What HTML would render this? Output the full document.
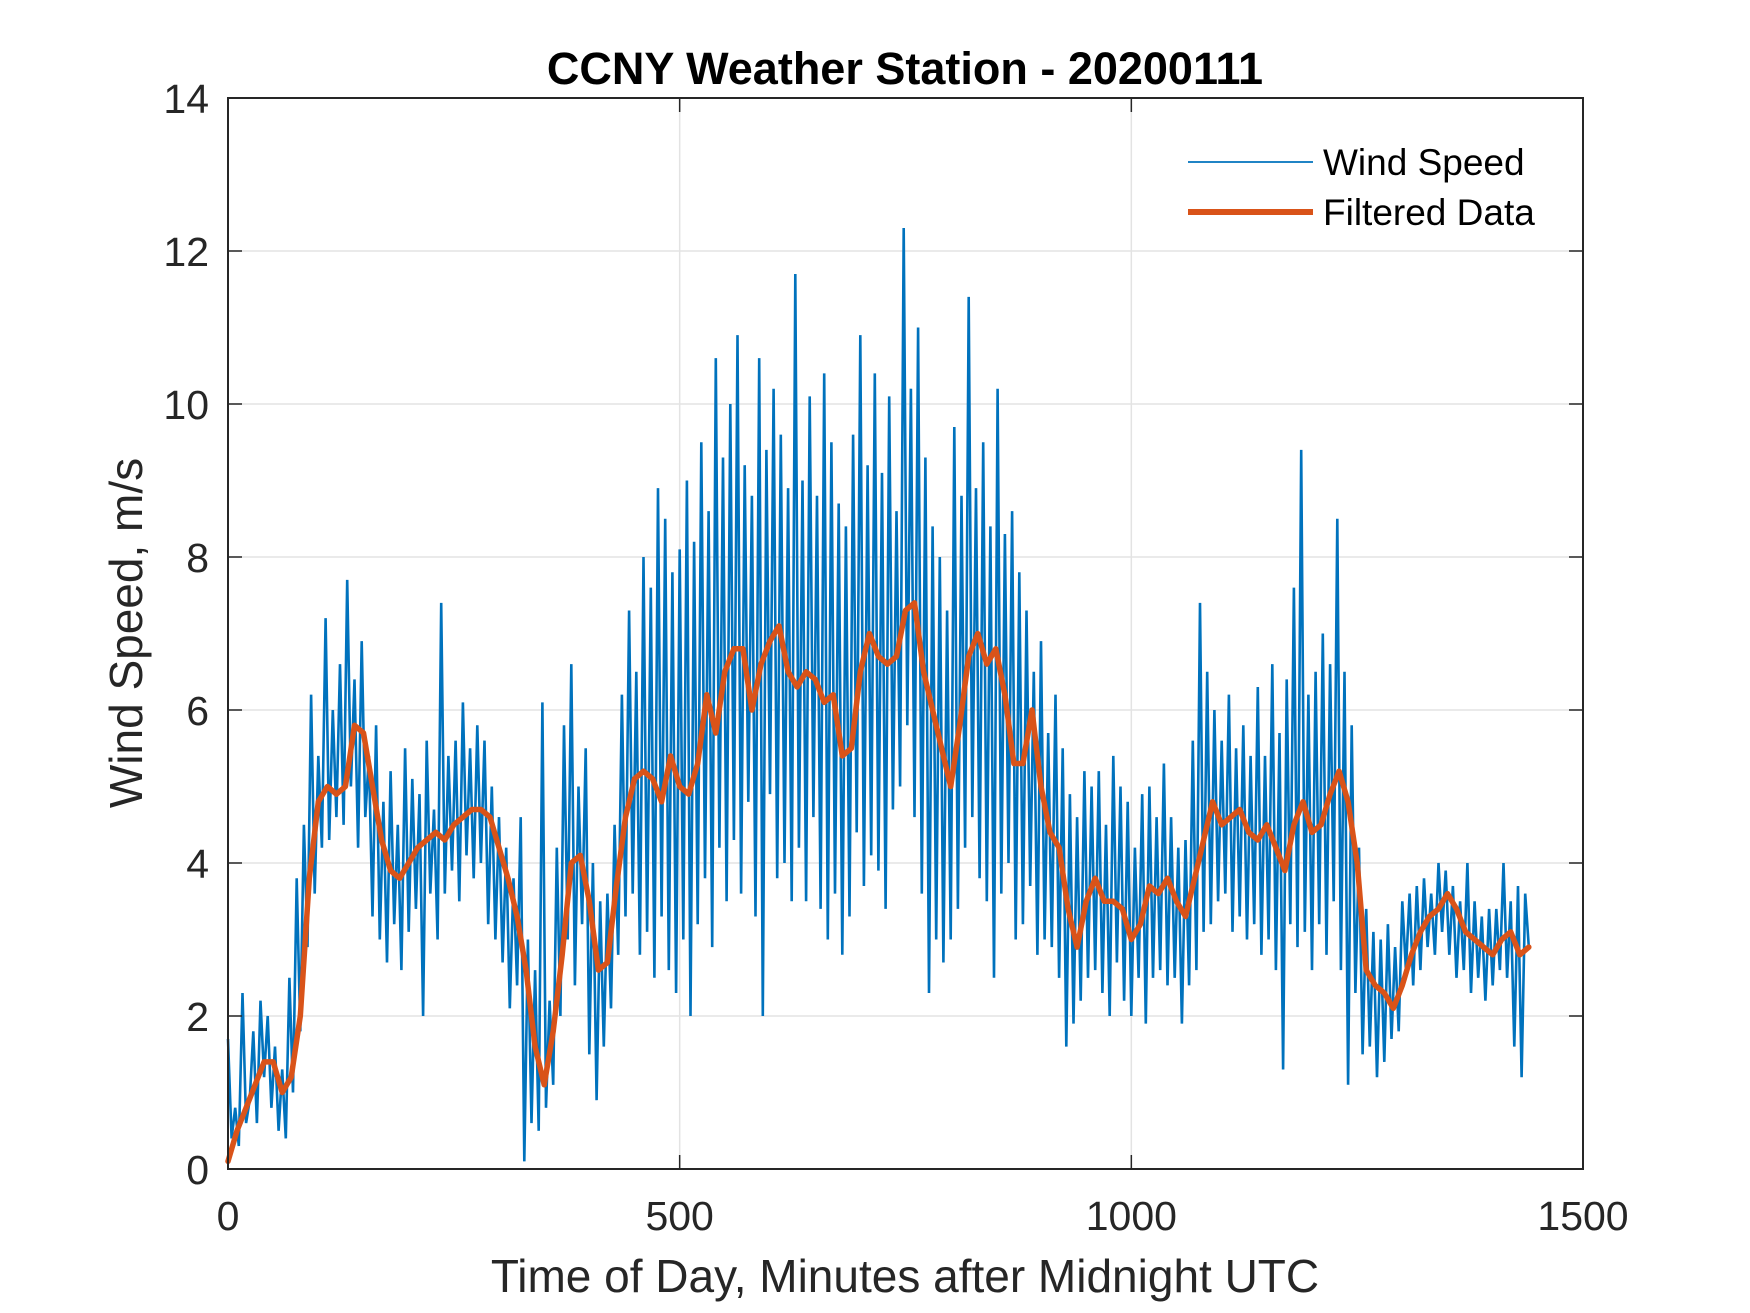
<!DOCTYPE html>
<html><head><meta charset="utf-8">
<style>
html,body{margin:0;padding:0;background:#fff;}
svg{display:block;font-family:"Liberation Sans",Arial,sans-serif;}
</style></head>
<body>
<svg id="chart" width="1750" height="1313" viewBox="0 0 1750 1313">
<rect x="0" y="0" width="1750" height="1313" fill="#fff"/>
<rect x="228" y="98" width="1355" height="1071" fill="#fff"/>
<g id="grid"></g>
<g id="series"></g>
<g id="axes"></g>
<text x="905" y="84" text-anchor="middle" font-size="45" font-weight="bold" fill="#000">CCNY Weather Station - 20200111</text>
<text x="905" y="1292" text-anchor="middle" font-size="46" fill="#262626">Time of Day, Minutes after Midnight UTC</text>
<text x="0" y="0" transform="translate(142,633) rotate(-90)" text-anchor="middle" font-size="46" fill="#262626">Wind Speed, m/s</text>
<g>
<line x1="1188" y1="162" x2="1313" y2="162" stroke="#0072BD" stroke-width="1.8"/>
<text x="1323" y="175" font-size="37" fill="#000">Wind Speed</text>
<line x1="1188" y1="212" x2="1313" y2="212" stroke="#D95319" stroke-width="6"/>
<text x="1323" y="225" font-size="37" fill="#000">Filtered Data</text>
</g>
</svg>
<script>
const xTicks = [0, 500, 1000, 1500];
const yTicks = [0, 2, 4, 6, 8, 10, 12, 14];
const windStep = 4;
const windSpeed = [
1.7,0.4,0.8,0.3,2.3,0.6,0.9,1.8,0.6,2.2,
1.2,2.0,0.8,1.6,0.5,1.3,0.4,2.5,1.0,3.8,
1.8,4.5,2.9,6.2,3.6,5.4,4.2,7.2,4.3,6.0,
4.6,6.6,4.5,7.7,5.0,6.4,4.2,6.9,4.6,5.4,
3.3,5.8,3.0,4.8,2.7,5.2,3.2,4.5,2.6,5.5,
3.1,5.1,3.4,4.9,2.0,5.6,3.6,4.7,3.0,7.4,
3.6,5.4,3.9,5.6,3.5,6.1,4.1,5.5,3.8,5.8,
4.0,5.6,3.2,5.0,3.0,4.6,2.7,4.2,2.1,3.8,
2.4,4.6,0.1,3.0,0.6,2.6,0.5,6.1,0.8,2.2,
1.1,4.2,2.0,5.8,3.0,6.6,2.4,5.0,3.2,5.5,
1.5,4.0,0.9,3.5,1.6,3.6,2.1,4.5,2.8,6.2,
3.3,7.3,3.6,6.5,2.8,8.0,3.1,7.6,2.5,8.9,
3.3,8.5,2.6,7.8,2.3,8.1,3.0,9.0,2.0,8.2,
3.2,9.5,3.8,8.6,2.9,10.6,4.2,9.3,3.5,10.0,
4.3,10.9,3.6,9.2,4.8,8.8,3.3,10.6,2.0,9.4,
4.9,10.2,3.8,9.6,4.0,8.9,3.5,11.7,4.2,9.0,
3.5,10.1,4.6,8.8,3.4,10.4,3.0,9.5,3.6,8.7,
2.8,8.4,3.3,9.6,4.4,10.9,3.7,9.2,4.1,10.4,
3.9,9.1,3.4,10.1,4.7,8.6,5.0,12.3,5.8,10.2,
4.6,11.0,3.6,9.3,2.3,8.4,3.0,8.0,2.7,7.3,
3.0,9.7,3.4,8.8,4.2,11.4,4.6,8.9,3.8,9.5,
3.5,8.4,2.5,10.2,3.6,8.3,4.0,8.6,3.0,7.8,
3.2,7.3,3.7,6.5,2.8,6.9,3.0,5.7,2.9,6.2,
2.5,5.5,1.6,4.9,1.9,4.6,2.2,5.2,2.5,5.0,
2.6,5.2,2.3,4.5,2.0,5.4,2.7,5.0,2.2,4.8,
2.0,4.2,2.5,4.9,1.9,5.0,2.5,4.6,2.6,5.3,
2.4,4.6,2.5,4.2,1.9,4.3,2.4,5.6,2.6,7.4,
3.1,6.5,3.2,6.0,3.5,5.6,3.6,6.2,3.1,5.5,
3.3,5.8,3.0,5.4,3.2,6.3,2.8,5.4,3.0,6.6,
2.6,5.7,1.3,6.4,3.2,7.6,2.9,9.4,3.1,6.2,
2.6,6.5,3.2,7.0,2.8,6.6,3.5,8.5,2.6,6.5,
1.1,5.8,2.3,4.2,1.5,3.4,1.6,3.1,1.2,3.0,
1.4,3.2,1.7,2.9,1.8,3.5,2.6,3.6,2.4,3.7,
2.6,3.8,2.9,3.6,2.8,4.0,3.1,3.9,2.8,3.7,
2.5,3.5,2.6,4.0,2.3,3.5,2.5,3.3,2.2,3.4,
2.4,3.4,2.6,4.0,2.5,3.5,1.6,3.7,1.2,3.6,
2.9];
const filtStep = 10;
const filtered = [
0.1,0.5,0.8,1.1,1.4,1.4,1.0,1.2,2.0,3.8,
4.8,5.0,4.9,5.0,5.8,5.7,5.0,4.3,3.9,3.8,
4.0,4.2,4.3,4.4,4.3,4.5,4.6,4.7,4.7,4.6,
4.2,3.8,3.3,2.6,1.6,1.1,1.8,2.8,4.0,4.1,
3.5,2.6,2.7,3.7,4.6,5.1,5.2,5.1,4.8,5.4,
5.0,4.9,5.3,6.2,5.7,6.5,6.8,6.8,6.0,6.6,
6.9,7.1,6.5,6.3,6.5,6.4,6.1,6.2,5.4,5.5,
6.5,7.0,6.7,6.6,6.7,7.3,7.4,6.5,6.0,5.5,
5.0,5.8,6.7,7.0,6.6,6.8,6.2,5.3,5.3,6.0,
5.0,4.4,4.2,3.4,2.9,3.5,3.8,3.5,3.5,3.4,
3.0,3.2,3.7,3.6,3.8,3.5,3.3,3.8,4.3,4.8,
4.5,4.6,4.7,4.4,4.3,4.5,4.2,3.9,4.5,4.8,
4.4,4.5,4.9,5.2,4.8,4.0,2.6,2.4,2.3,2.1,
2.4,2.8,3.1,3.3,3.4,3.6,3.4,3.1,3.0,2.9,
2.8,3.0,3.1,2.8,2.9];

const NS = "http://www.w3.org/2000/svg";
const L = 228, R = 1583, T = 98, B = 1169;
const xMin = 0, xMax = 1500, yMin = 0, yMax = 14;
function sx(v){ return L + (v - xMin) / (xMax - xMin) * (R - L); }
function sy(v){ return B - (v - yMin) / (yMax - yMin) * (B - T); }

const grid = document.getElementById('grid');
const axes = document.getElementById('axes');
const series = document.getElementById('series');

xTicks.forEach(t => {
  const x = sx(t);
  if (t > xMin && t < xMax) {
    const g = document.createElementNS(NS, 'line');
    g.setAttribute('x1', x); g.setAttribute('x2', x); g.setAttribute('y1', T); g.setAttribute('y2', B);
    g.setAttribute('stroke', '#e3e3e3'); g.setAttribute('stroke-width', '1.5');
    
    
    grid.appendChild(g);
  }
  [[B, B - 14], [T, T + 14]].forEach(p => {
    const tk = document.createElementNS(NS, 'line');
    tk.setAttribute('x1', x); tk.setAttribute('x2', x); tk.setAttribute('y1', p[0]); tk.setAttribute('y2', p[1]);
    tk.setAttribute('stroke', '#262626'); tk.setAttribute('stroke-width', '1.5');
    
    
    axes.appendChild(tk);
  });
  const lb = document.createElementNS(NS, 'text');
  lb.setAttribute('x', x); lb.setAttribute('y', 1230);
  lb.setAttribute('text-anchor', 'middle'); lb.setAttribute('font-size', '41'); lb.setAttribute('fill', '#262626');
  lb.textContent = t;
  
  
  axes.appendChild(lb);
});

yTicks.forEach(t => {
  const y = sy(t);
  if (t > yMin && t < yMax) {
    const g = document.createElementNS(NS, 'line');
    g.setAttribute('x1', L); g.setAttribute('x2', R); g.setAttribute('y1', y); g.setAttribute('y2', y);
    g.setAttribute('stroke', '#e3e3e3'); g.setAttribute('stroke-width', '1.5');
    
    
    grid.appendChild(g);
  }
  [[L, L + 14], [R, R - 14]].forEach(p => {
    const tk = document.createElementNS(NS, 'line');
    tk.setAttribute('x1', p[0]); tk.setAttribute('x2', p[1]); tk.setAttribute('y1', y); tk.setAttribute('y2', y);
    tk.setAttribute('stroke', '#262626'); tk.setAttribute('stroke-width', '1.5');
    
    
    axes.appendChild(tk);
  });
  const lb = document.createElementNS(NS, 'text');
  lb.setAttribute('x', 209); lb.setAttribute('y', y + 15);
  lb.setAttribute('text-anchor', 'end'); lb.setAttribute('font-size', '41'); lb.setAttribute('fill', '#262626');
  lb.textContent = t;
  
  
  axes.appendChild(lb);
});

const box = document.createElementNS(NS, 'rect');
box.setAttribute('x', L); box.setAttribute('y', T); box.setAttribute('width', R - L); box.setAttribute('height', B - T);
box.setAttribute('fill', 'none'); box.setAttribute('stroke', '#262626'); box.setAttribute('stroke-width', '2');


axes.appendChild(box);

const wp = windSpeed.map((v, i) => sx(i * windStep).toFixed(1) + ',' + sy(v).toFixed(1)).join(' ');
const wl = document.createElementNS(NS, 'polyline');
wl.setAttribute('points', wp);
wl.setAttribute('fill', 'none'); wl.setAttribute('stroke', '#0072BD'); wl.setAttribute('stroke-width', '2.6');
wl.setAttribute('stroke-linejoin', 'miter'); wl.setAttribute('stroke-miterlimit', '2');


series.appendChild(wl);

const fp = filtered.map((v, i) => sx(i * filtStep).toFixed(1) + ',' + sy(v).toFixed(1)).join(' ');
const fl = document.createElementNS(NS, 'polyline');
fl.setAttribute('points', fp);
fl.setAttribute('fill', 'none'); fl.setAttribute('stroke', '#D95319'); fl.setAttribute('stroke-width', '5.5');
fl.setAttribute('stroke-linejoin', 'round'); fl.setAttribute('stroke-linecap', 'round');


series.appendChild(fl);
</script>
</body></html>
